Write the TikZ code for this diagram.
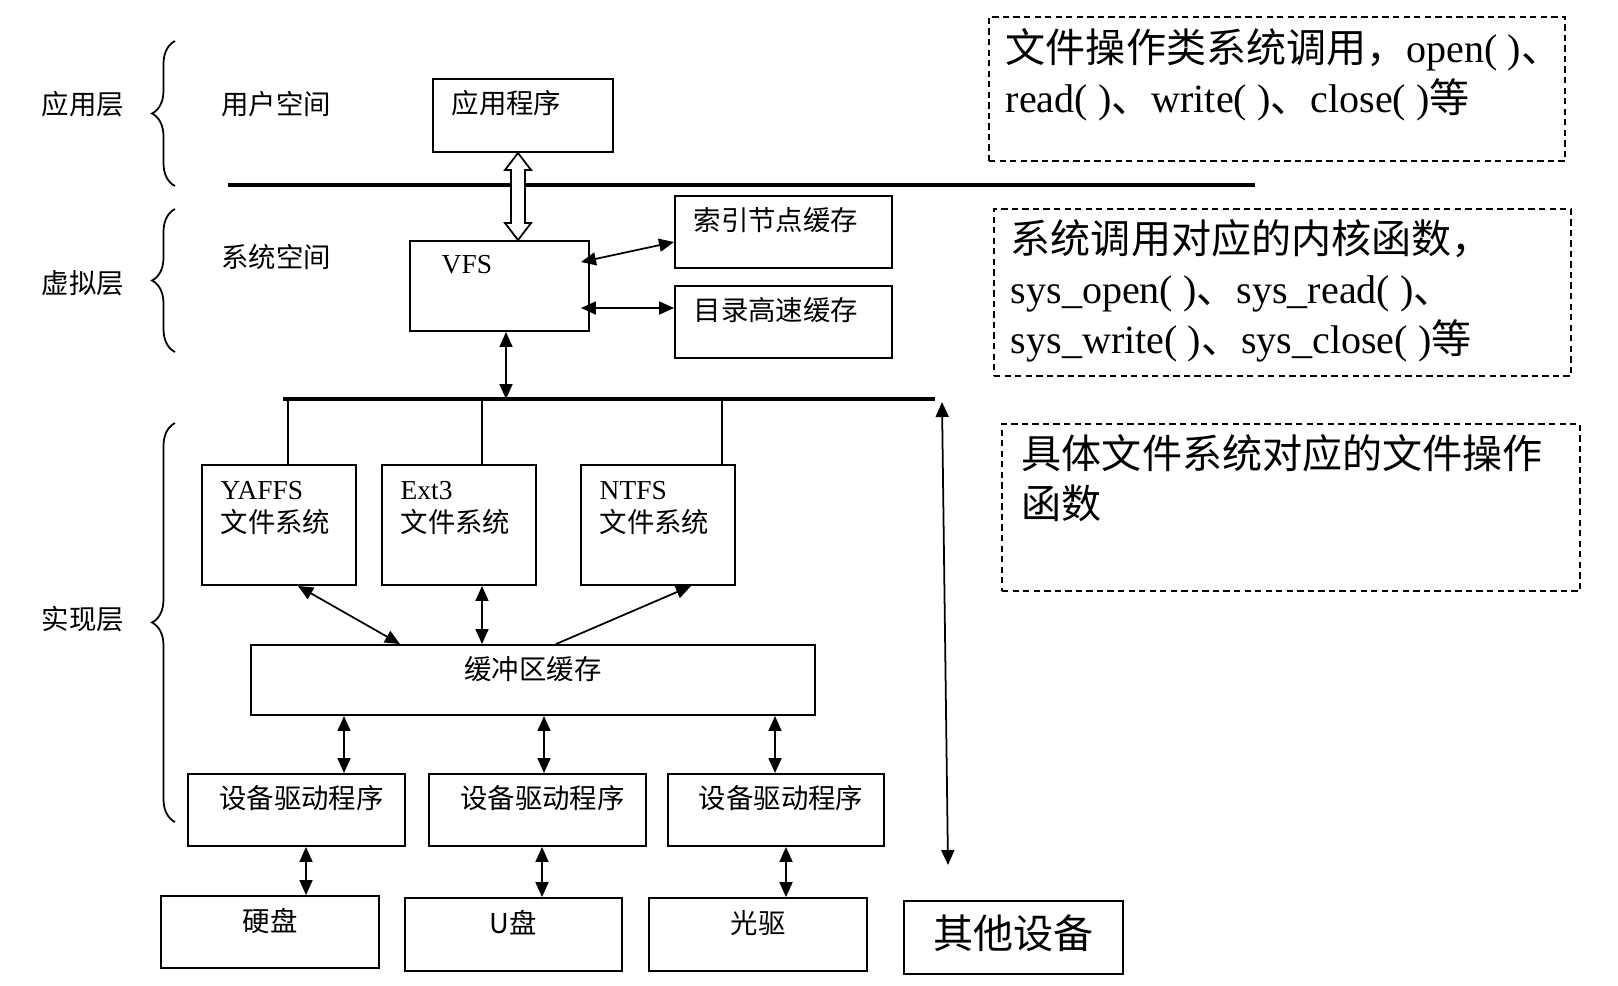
\documentclass[tikz,border=0pt]{standalone}
\usepackage{fontspec}
\setmainfont{Liberation Serif}
\newfontfamily\cjk{Noto Sans CJK SC}
\usepackage{tikz}
\usetikzlibrary{
    arrows.meta,
    fit,
    calc,
    decorations.pathreplacing
}

\newcommand{\smallsz}{\fontsize{7.8}{9.2}\selectfont}
\newcommand{\notesz}{\fontsize{11.4}{14.2}\selectfont}
\newcommand{\othsz}{\fontsize{11.4}{13}\selectfont}

\begin{document}
\begin{tikzpicture}[
      x=0.1mm, y=-0.1mm,
      box/.style={draw, line width=0.55pt, inner sep=0pt},
      note/.style={draw, dash pattern=on 1.8pt off 1.2pt, line width=0.5pt, inner sep=0pt},
      intext/.style={anchor=west, inner sep=0pt, font=\smallsz\cjk, xshift=1.9mm, yshift=-2.5mm},
      midtext/.style={anchor=center, inner sep=0pt, font=\smallsz\cjk, yshift=-2.5mm},
      fstext/.style={anchor=north west, align=left, inner sep=0pt, font=\smallsz, xshift=1.9mm, yshift=-1.7mm},
      notetext/.style={anchor=north west, align=left, inner sep=0pt, font=\notesz, xshift=1.7mm, yshift=-1.2mm},
      layer/.style={font=\smallsz\cjk, inner sep=0pt},
      arr/.style={{Triangle[length=1.5mm, width=1.3mm]}-{Triangle[length=1.5mm, width=1.3mm]}, line width=0.5pt},
      onearr/.style={-{Triangle[length=1.5mm, width=1.3mm]}, line width=0.5pt},
      rule/.style={line width=1.2pt},
      layerbrace/.style={decorate, decoration={brace, amplitude=2.3mm}, line width=0.5pt}
    ]
    \useasboundingbox (0,0) rectangle (1618,985);

    % layers on the left
    \node[layer] (appl) at (83,104) {应用层};
    \node[layer] (usr) at (276,104) {用户空间};
    \node[layer] (virt) at (83,283) {虚拟层};
    \node[layer] (sys) at (276,257) {系统空间};
    \node[layer] (impl) at (83,619) {实现层};
    \draw[layerbrace] (175,186) -- (175,41);
    \draw[layerbrace] (175,352) -- (175,209);
    \draw[layerbrace] (175,822) -- (175,423);

    % user and kernel space
    \node[box, fit={(433,79) (613,152)}, label={[intext]north west:应用程序}] (app) {};
    \node[box, fit={(410,241) (589,331)}, label={[intext, font=\smallsz, xshift=1.3mm]north west:VFS}] (vfs) {};
    \node[box, fit={(675,196) (892,268)}, label={[intext]north west:索引节点缓存}] (idx) {};
    \node[box, fit={(675,286) (892,358)}, label={[intext]north west:目录高速缓存}] (dir) {};

    % file systems
    \node[box, fit={(202,465) (356,585)}, label={[fstext]north west:YAFFS\\{\cjk 文件系统}}] (yaffs) {};
    \node[box, fit={(382,465) (536,585)}, label={[fstext]north west:Ext3\\{\cjk 文件系统}}] (ext) {};
    \node[box, fit={(581,465) (735,585)}, label={[fstext]north west:NTFS\\{\cjk 文件系统}}] (ntfs) {};
    \node[box, fit={(251,645) (815,715)}, label={[midtext]north:缓冲区缓存}] (buf) {};

    % drivers and devices
    \node[box, fit={(188,774) (405,846)}, label={[midtext, xshift=0.5mm]north:设备驱动程序}] (drvA) {};
    \node[box, fit={(429,774) (646,846)}, label={[midtext, xshift=0.5mm]north:设备驱动程序}] (drvB) {};
    \node[box, fit={(668,774) (884,846)}, label={[midtext, xshift=0.5mm]north:设备驱动程序}] (drvC) {};
    \node[box, fit={(161,896) (379,968)}, label={[midtext, yshift=-0.1mm]north:硬盘}] (disk) {};
    \node[box, fit={(405,898) (622,971)}, label={[midtext, yshift=-0.1mm]north:U盘}] (udisk) {};
    \node[box, fit={(649,898) (867,971)}, label={[midtext, yshift=-0.1mm]north:光驱}] (cdrom) {};
    \node[box, fit={(904,901) (1123,974)}, label={[anchor=center, inner sep=0pt, font=\othsz\cjk, yshift=0.45mm]center:其他设备}] (other) {};

    % notes
    \node[note, fit={(989,17) (1565,161)},
      label={[notetext]north west:{\cjk 文件操作类系统调用，}open( ){\cjk 、}\\read( ){\cjk 、}write( ){\cjk 、}close( ){\cjk 等}}] (callnote) {};
    \node[note, fit={(994,209) (1571,376)},
      label={[notetext, yshift=0.1mm]north west:{\cjk 系统调用对应的内核函数，}\\sys\_open( ){\cjk 、}sys\_read( ){\cjk 、}\\sys\_write( ){\cjk 、}sys\_close( ){\cjk 等}}] (sysnote) {};
    \node[note, fit={(1002,424) (1580,591)},
      label={[notetext, xshift=0.3mm, yshift=0.1mm]north west:{\cjk 具体文件系统对应的文件操作}\\{\cjk 函数}}] (fsnote) {};

    % separators
    \coordinate (sepL) at (228,185);
    \coordinate (sepR) at (1255,185);
    \draw[rule] (sepL) -- (sepR);
    \coordinate (busL) at (283,399);
    \coordinate (busR) at (935,399);
    \draw[line width=0.9pt] (busL) -- (busR);

    % hollow arrow between application and VFS
    \coordinate (hx) at (518,0);
    \coordinate (htop) at (hx |- app.south);
    \coordinate (hbot) at (hx |- vfs.north);
    \draw[line width=0.5pt, fill=white] (htop) -- ++(13,17) -- ++(-6,0) -- ($(hbot)+(7,-17)$)
      -- ++(6,0) -- (hbot) -- ++(-13,-17) -- ++(6,0) -- ($(htop)+(-7,17)$) -- ++(-6,0) -- cycle;

    \draw[arr] ([xshift=-0.9mm, yshift=-2.2mm]vfs.north east) -- ([yshift=-1mm]idx.west);
    \draw[arr] ([xshift=-0.9mm, yshift=-2.2mm]vfs.east) -- ([yshift=1.4mm]dir.west);
    \draw[arr] (vfs.south -| 506,0) -- (busL -| 506,0);

    \foreach \x/\fs in {288/yaffs, 482/ext, 722/ntfs}
      \draw[line width=0.5pt] (busL -| \x,0) -- (\fs.north -| \x,0);

    \draw[arr] (yaffs.south -| 298,0) -- (buf.north -| 400,0);
    \draw[arr] (ext.south -| 482,0) -- (buf.north -| 482,0);
    \draw[onearr] (buf.north -| 556,0) -- (ntfs.south -| 691,0);

    \foreach \x/\drv in {344/drvA, 544/drvB, 775/drvC}
      \draw[arr] (buf.south -| \x,0) -- (\drv.north -| \x,0);
    \foreach \x/\drv/\dev in {306/drvA/disk, 542/drvB/udisk, 786/drvC/cdrom}
      \draw[arr] (\drv.south -| \x,0) -- (\dev.north -| \x,0);

    \coordinate (otherT) at (942,402);
    \coordinate (otherB) at (948,865);
    \draw[arr] (otherT) -- (otherB);
  \end{tikzpicture}
\end{document}
